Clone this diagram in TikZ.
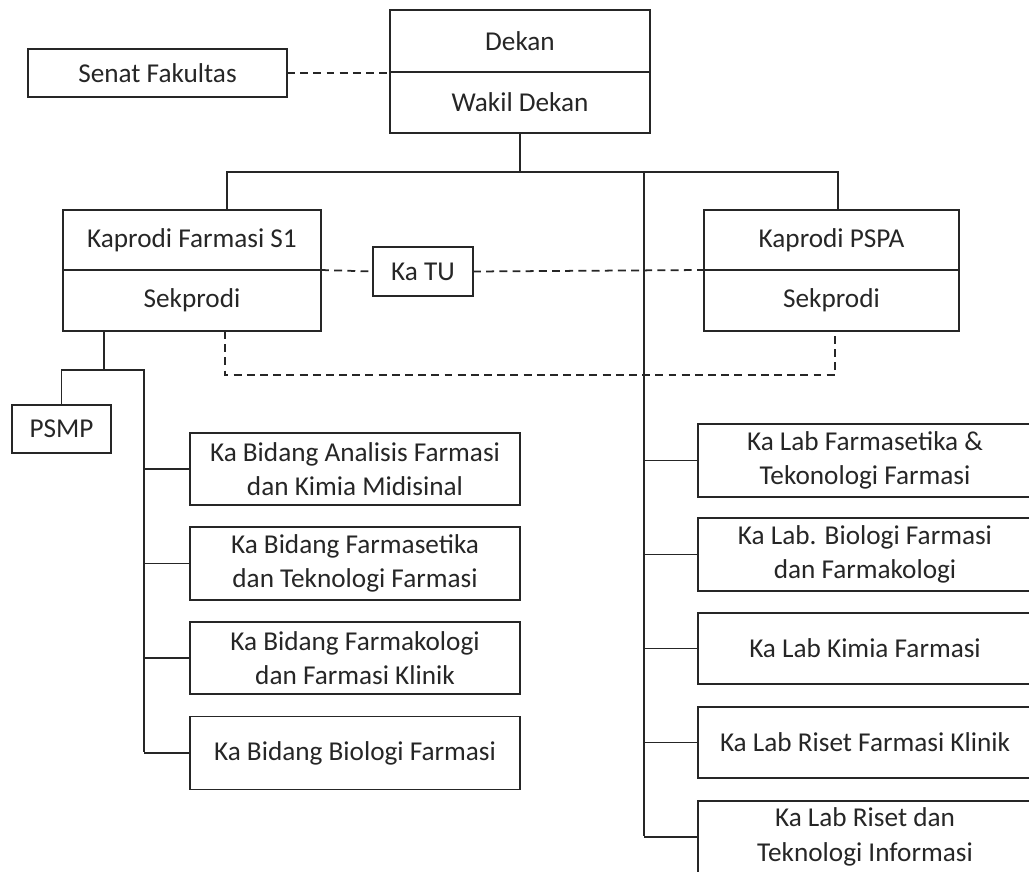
\documentclass[tikz,border=0pt]{standalone}
\usepackage{fontspec}
\setmainfont{Carlito}
\usetikzlibrary{positioning}

\tikzset{
	unit/.style={draw, line width=1pt, align=center, inner sep=0pt, outer sep=0pt,
		font=\fontsize{15.5}{19.5}\selectfont},
	link/.style={line width=1pt},
	dashlink/.style={line width=1pt, dash pattern=on 4.5pt off 3pt}
}

\begin{document}
\begin{tikzpicture}[x=0.02cm, y=-0.02cm, color={black!85}]
	\useasboundingbox (0,0) rectangle (1029,872);
	\clip (0,0) rectangle (1029,872);
	
	% top level
	\node[unit, minimum width=260*0.02cm, minimum height=62*0.02cm] (dekan) at (520,41) {Dekan};
	\node[unit, minimum width=260*0.02cm, minimum height=61*0.02cm, anchor=north] (wakil) at (dekan.south) {Wakil Dekan};
	\node[unit, minimum width=259*0.02cm, minimum height=48*0.02cm] (senat) at (157.5,73) {Senat Fakultas};
	
	% program heads
	\node[unit, minimum width=258*0.02cm, minimum height=60*0.02cm] (kaprodiS1) at (192,240) {Kaprodi Farmasi S1};
	\node[unit, minimum width=258*0.02cm, minimum height=61*0.02cm, anchor=north] (sekS1) at (kaprodiS1.south) {Sekprodi};
	\node[unit, minimum width=255*0.02cm, minimum height=60*0.02cm] (kaprodiPSPA) at (831.5,240) {Kaprodi PSPA};
	\node[unit, minimum width=255*0.02cm, minimum height=61*0.02cm, anchor=north] (sekPSPA) at (kaprodiPSPA.south) {Sekprodi};
	\node[unit, minimum width=100*0.02cm, minimum height=49*0.02cm] (katu) at (423,271.5) {Ka TU};
	
	% under Farmasi S1
	\node[unit, minimum width=99*0.02cm, minimum height=48*0.02cm] (psmp) at (61.5,429) {PSMP};
	\node[unit, minimum width=330*0.02cm, minimum height=72*0.02cm] (bid1) at (355,469) {Ka Bidang Analisis Farmasi\\dan Kimia Midisinal};
	\node[unit, minimum width=330*0.02cm, minimum height=73*0.02cm] (bid2) at (355,563.5) {Ka Bidang Farmasetika\\dan Teknologi Farmasi};
	\node[unit, minimum width=330*0.02cm, minimum height=72*0.02cm] (bid3) at (355,658) {Ka Bidang Farmakologi\\dan Farmasi Klinik};
	\node[unit, minimum width=330*0.02cm, minimum height=73*0.02cm] (bid4) at (355,753) {Ka Bidang Biologi Farmasi};
	
	% labs
	\node[unit, minimum width=334*0.02cm, minimum height=73*0.02cm] (lab1) at (865,460.5) {Ka Lab Farmasetika \&\\Tekonologi Farmasi};
	\node[unit, minimum width=334*0.02cm, minimum height=73*0.02cm] (lab2) at (865,554.5) {Ka Lab. Biologi Farmasi\\dan Farmakologi};
	\node[unit, minimum width=334*0.02cm, minimum height=71*0.02cm] (lab3) at (865,648.5) {Ka Lab Kimia Farmasi};
	\node[unit, minimum width=334*0.02cm, minimum height=71*0.02cm] (lab4) at (865,742.5) {Ka Lab Riset Farmasi Klinik};
	\node[unit, minimum width=334*0.02cm, minimum height=72*0.02cm] (lab5) at (865,837) {Ka Lab Riset dan\\Teknologi Informasi};
	
	% bus points
	\coordinate (busL) at (227,172);
	\coordinate (busR) at (838,172);
	\coordinate (labtop) at (644,172);
	\coordinate (labend) at (644,836);
	\coordinate (s1fork) at (104,370);
	\coordinate (bidtop) at (144,370);
	\coordinate (bidend) at (144,752);
	\coordinate (dashL) at (225,375);
	\coordinate (dashR) at (835,375);
	
	% solid lines
	\draw[link] (wakil.south) -- (wakil.south |- busL);
	\draw[link] (busL |- kaprodiS1.north) -- (busL) -- (busR) -- (busR |- kaprodiPSPA.north);
	\draw[link] (labtop) -- (labend);
	\draw[link] (sekS1.south -| s1fork) -- (s1fork);
	\draw[link] (psmp.north) |- (bidtop) -- (bidend);
	\draw[link] (bid1.west) -- (bid1.west -| bidtop);
	\draw[link] (bid2.west) -- (bid2.west -| bidtop);
	\draw[link] (bid3.west) -- (bid3.west -| bidtop);
	\draw[link] (bid4.west) -- (bid4.west -| bidtop);
	\draw[link] (lab1.west) -- (lab1.west -| labtop);
	\draw[link] (lab2.west) -- (lab2.west -| labtop);
	\draw[link] (lab3.west) -- (lab3.west -| labtop);
	\draw[link] (lab4.west) -- (lab4.west -| labtop);
	\draw[link] (lab5.west) -- (lab5.west -| labtop);
	
	% dashed lines
	\draw[dashlink] (senat.east) -- (senat.east -| dekan.west);
	\draw[dashlink] (sekS1.north east) -- (katu.west);
	\draw[dashlink] (katu.east) -- (sekPSPA.north west);
	\draw[dashlink] (sekS1.south -| dashL) -- (dashL) -- (dashR) -- (sekPSPA.south -| dashR);
	
\end{tikzpicture}
\end{document}
